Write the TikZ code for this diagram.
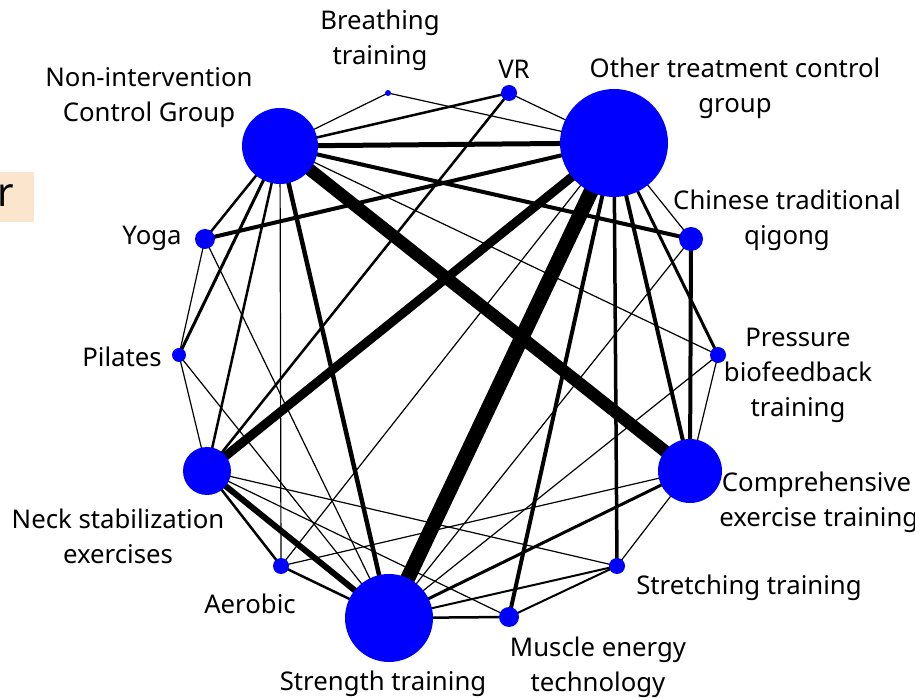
\documentclass[tikz,border=0pt]{standalone}
\usepackage{fontspec}
\setmainfont{Noto Sans}
\usetikzlibrary{backgrounds}
\definecolor{netblue}{RGB}{0,0,255}
\definecolor{peach}{RGB}{251,229,205}
\tikzset{
  nd/.style={circle,fill=netblue,draw=none,inner sep=0pt,minimum size=#1*1.5pt},
  lbl/.style={font=\fontsize{19.3}{26.2}\selectfont,align=center,inner sep=0pt,text=black},
  ed/.style={draw=black,line width=#1*0.75pt},
  ed/.default=1.2
}
\begin{document}
\begin{tikzpicture}[x=0.75pt,y=-0.75pt]
\useasboundingbox (0,0) rectangle (915,698);
% left cropped box
\fill[peach] (0,172) rectangle (34,222);
\node[font=\fontsize{30}{34}\selectfont,inner sep=0pt,anchor=base west] (rr) at (-3,207) {r};
% labels
\node[lbl] (lBR) at (380,40) {Breathing\\training};
\node[lbl] (lVR) at (514,69) {VR};
\node[lbl] (lOT) at (735,88) {Other treatment control\\group};
\node[lbl] (lNI) at (149,98) {Non-intervention\\Control Group};
\node[lbl] (lCQ) at (787,220) {Chinese traditional\\qigong};
\node[lbl] (lYO) at (152,238) {Yoga};
\node[lbl] (lPI) at (122,357) {Pilates};
\node[lbl] (lPB) at (798,375) {Pressure\\biofeedback\\training};
\node[lbl,anchor=west,align=left] (lCE) at (719,502) {\hspace*{2pt}Comprehensive\\exercise training};
\node[lbl] (lNS) at (118,536) {Neck stabilization\\exercises};
\node[lbl] (lAE) at (250,604) {Aerobic};
\node[lbl] (lSG) at (383,684) {Strength training};
\node[lbl] (lST) at (749,588) {Stretching training};
\node[lbl] (lME) at (598,667) {Muscle energy\\technology};
% nodes
\node[nd=38] (NI) at (280,146) {};
\node[nd=3]  (BR) at (388,93) {};
\node[nd=8]  (VR) at (509,93) {};
\node[nd=54] (OT) at (614,143) {};
\node[nd=12] (CQ) at (691,239) {};
\node[nd=8]  (PB) at (718,355) {};
\node[nd=32] (CE) at (690,471) {};
\node[nd=8]  (ST) at (617,566) {};
\node[nd=10] (ME) at (509,617) {};
\node[nd=44] (SG) at (389,618) {};
\node[nd=8]  (AE) at (281,566) {};
\node[nd=24] (NS) at (207,471) {};
\node[nd=7]  (PI) at (179,355) {};
\node[nd=10] (YO) at (205,239) {};
% edges
\begin{scope}[on background layer]
\draw[ed] (BR.center) -- (NI.center);
\draw[ed] (BR.center) -- (OT.center);
\draw[ed=2.5] (VR.center) -- (NI.center);
\draw[ed] (VR.center) -- (OT.center);
\draw[ed=2.5] (VR.center) -- (NS.center);
\draw[ed=5] (NI.center) -- (OT.center);
\draw[ed=4] (NI.center) -- (CQ.center);
\draw[ed=12.5] (NI.center) -- (CE.center);
\draw[ed] (NI.center) -- (PB.center);
\draw[ed=2.5] (NI.center) -- (YO.center);
\draw[ed=3] (NI.center) -- (PI.center);
\draw[ed=2.5] (NI.center) -- (NS.center);
\draw[ed] (NI.center) -- (AE.center);
\draw[ed=4.5] (NI.center) -- (SG.center);
\draw[ed=4] (YO.center) -- (OT.center);
\draw[ed] (YO.center) -- (PI.center);
\draw[ed] (YO.center) -- (SG.center);
\draw[ed] (PI.center) -- (NS.center);
\draw[ed] (PI.center) -- (SG.center);
\draw[ed=9] (NS.center) -- (OT.center);
\draw[ed=6] (NS.center) -- (SG.center);
\draw[ed=2.5] (NS.center) -- (AE.center);
\draw[ed] (NS.center) -- (ME.center);
\draw[ed] (NS.center) -- (ST.center);
\draw[ed] (AE.center) -- (OT.center);
\draw[ed] (AE.center) -- (CE.center);
\draw[ed=2.5] (AE.center) -- (SG.center);
\draw[ed=15] (OT.center) -- (SG.center);
\draw[ed=4] (OT.center) -- (ME.center);
\draw[ed=3.5] (OT.center) -- (ST.center);
\draw[ed=4] (OT.center) -- (CE.center);
\draw[ed=3] (OT.center) -- (PB.center);
\draw[ed] (OT.center) -- (CQ.center);
\draw[ed=4] (CQ.center) -- (CE.center);
\draw[ed] (CQ.center) -- (SG.center);
\draw[ed] (PB.center) -- (CE.center);
\draw[ed] (PB.center) -- (SG.center);
\draw[ed=3] (SG.center) -- (CE.center);
\draw[ed=2.5] (SG.center) -- (ME.center);
\draw[ed=2] (SG.center) -- (ST.center);
\draw[ed=2] (ME.center) -- (ST.center);
\draw[ed] (CE.center) -- (ST.center);
\end{scope}
\end{tikzpicture}
\end{document}
